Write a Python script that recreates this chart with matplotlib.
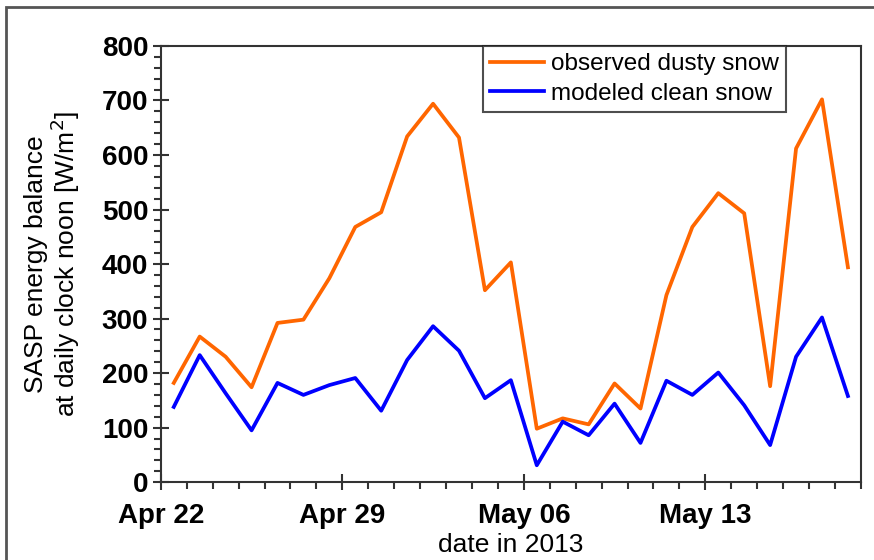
import matplotlib.pyplot as plt
import matplotlib.dates as mdates
from matplotlib.patches import Rectangle
import numpy as np
import datetime as dt

plt.rcParams['font.family'] = ['Liberation Sans', 'DejaVu Sans']

# daily values at clock noon, 22 Apr - 18 May 2013
start = dt.datetime(2013, 4, 22, 12)
dates = [start + dt.timedelta(days=i) for i in range(27)]
observed_dusty = [182, 267, 230, 174, 292, 298, 374, 468, 495, 634, 694, 632, 352, 403,
                  98, 117, 106, 181, 135, 343, 468, 530, 493, 176, 612, 702, 394]
modeled_clean = [138, 233, 163, 95, 182, 160, 178, 191, 131, 224, 286, 241, 154, 187,
                 31, 111, 86, 144, 72, 186, 160, 201, 141, 68, 230, 302, 158]

fig = plt.figure(figsize=(8.74, 5.6), dpi=100)
ax = fig.add_axes([0.184, 0.139, 0.801, 0.779])

ax.plot(dates, observed_dusty, color='#ff6600', lw=2.7, label='observed dusty snow')
ax.plot(dates, modeled_clean, color='#0000ff', lw=2.7, label='modeled clean snow')

ax.set_xlim(dt.datetime(2013, 4, 22), dt.datetime(2013, 5, 19))
ax.set_ylim(0, 800)
ax.xaxis.set_major_locator(mdates.DayLocator(bymonthday=[6, 13, 22, 29]))
ax.xaxis.set_major_formatter(mdates.DateFormatter('%b %d'))
ax.xaxis.set_minor_locator(mdates.DayLocator())
ax.set_yticks(np.arange(0, 801, 100))
ax.set_yticks(np.arange(0, 801, 20), minor=True)

for s in ax.spines.values():
    s.set_color('#333333')
    s.set_linewidth(1.5)
ax.tick_params(which='major', direction='inout', length=12, width=1.5, color='#333333',
               labelsize=20)
ax.tick_params(axis='y', which='major', pad=3)
ax.tick_params(axis='x', which='major', pad=9)
ax.tick_params(which='minor', direction='out', length=5, width=1.5, color='#333333')
for lab in ax.get_xticklabels() + ax.get_yticklabels():
    lab.set_fontweight('bold')

ax.set_xlabel('date in 2013', fontsize=19, labelpad=3)
ax.set_ylabel('SASP energy balance\nat daily clock noon [W/m$^2$]', fontsize=19,
              labelpad=14, linespacing=1.05)

leg = ax.legend(loc='upper left', bbox_to_anchor=(0.46, 1.0), fontsize=17.5,
                frameon=True, fancybox=False, borderpad=0.3, handlelength=2.2,
                handletextpad=0.3, labelspacing=0.3, borderaxespad=0)
leg.get_frame().set_edgecolor('#222222')
leg.get_frame().set_linewidth(1.5)

fig.patches.append(Rectangle((6 / 874, -0.1), 1.2, (560 - 7) / 560 + 0.1,
                             transform=fig.transFigure, fill=False,
                             edgecolor='#555555', lw=2))

fig.savefig('out.png', dpi=100)
